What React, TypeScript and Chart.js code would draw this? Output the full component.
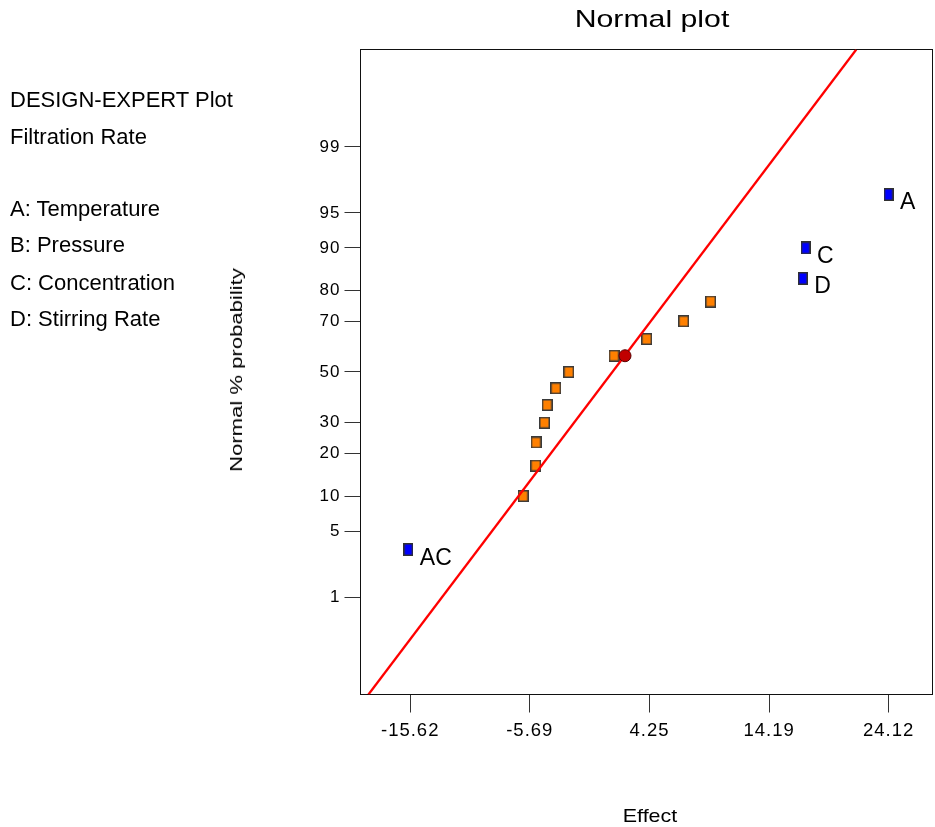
import React, { useEffect, useRef } from 'react';
import { Chart, registerables } from 'chart.js';

Chart.register(...registerables);

// ---- data ----
const significantNames = ['AC', 'D', 'C', 'A'];
const significantEffects = [-15.78, 16.99, 17.22, 24.11];
const significantProbs = [3.33, 83.33, 90, 96.67];

const otherEffects = [-6.24, -5.19, -5.17, -4.47, -4.25, -3.53, -2.45, 1.31, 4.02, 7.09, 9.33];
const otherProbs = [10, 16.67, 23.33, 30, 36.67, 43.33, 50, 56.67, 63.33, 70, 76.67];

const centerEffects = [2.22];
const centerProbs = [56.67];

const lineEffects = [-19.09, 21.43];
const lineProbs = [0.043, 99.957];

const xTickValues = [-15.62, -5.69, 4.25, 14.19, 24.12];
const xTickLabels = ['-15.62', '-5.69', '4.25', '14.19', '24.12'];
const yTickProbs = [1, 5, 10, 20, 30, 50, 70, 80, 90, 95, 99];
const yTickLabels = ['1', '5', '10', '20', '30', '50', '70', '80', '90', '95', '99'];

const legendLines = [
  'DESIGN-EXPERT Plot',
  'Filtration Rate',
  'A: Temperature',
  'B: Pressure',
  'C: Concentration',
  'D: Stirring Rate',
];

const FONT = "'Liberation Sans', Arial, sans-serif";

// inverse normal CDF (probability scale transform)
function probit(p: number): number {
  const a = [-3.969683028665376e1, 2.209460984245205e2, -2.759285104469687e2, 1.38357751867269e2, -3.066479806614716e1, 2.506628277459239];
  const b = [-5.447609879822406e1, 1.615858368580409e2, -1.556989798598866e2, 6.680131188771972e1, -1.328068155288572e1];
  const c = [-7.784894002430293e-3, -3.223964580411365e-1, -2.400758277161838, -2.549732539343734, 4.374664141464968, 2.938163982698783];
  const d = [7.784695709041462e-3, 3.224671290700398e-1, 2.445134137142996, 3.754408661907416];
  const plow = 0.02425;
  const phigh = 1 - plow;
  if (p < plow) {
    const q = Math.sqrt(-2 * Math.log(p));
    return (((((c[0] * q + c[1]) * q + c[2]) * q + c[3]) * q + c[4]) * q + c[5]) / ((((d[0] * q + d[1]) * q + d[2]) * q + d[3]) * q + 1);
  }
  if (p > phigh) {
    const q = Math.sqrt(-2 * Math.log(1 - p));
    return -(((((c[0] * q + c[1]) * q + c[2]) * q + c[3]) * q + c[4]) * q + c[5]) / ((((d[0] * q + d[1]) * q + d[2]) * q + d[3]) * q + 1);
  }
  const q = p - 0.5;
  const r = q * q;
  return ((((((a[0] * r + a[1]) * r + a[2]) * r + a[3]) * r + a[4]) * r + a[5]) * q) / (((((b[0] * r + b[1]) * r + b[2]) * r + b[3]) * r + b[4]) * r + 1);
}

const toZ = (pct: number) => probit(pct / 100);

function makeMarker(w: number, h: number, fill: string, stroke: string): HTMLCanvasElement {
  const c = document.createElement('canvas');
  c.width = w;
  c.height = h;
  const ctx = c.getContext('2d')!;
  ctx.fillStyle = fill;
  ctx.fillRect(0, 0, w, h);
  ctx.strokeStyle = stroke;
  ctx.lineWidth = 1.5;
  ctx.strokeRect(0.75, 0.75, w - 1.5, h - 1.5);
  return c;
}

export default function App() {
  const canvasRef = useRef<HTMLCanvasElement | null>(null);

  useEffect(() => {
    if (!canvasRef.current) return;
    const blueMarker = makeMarker(10, 13, '#0000FF', '#303030');
    const orangeMarker = makeMarker(11, 12, '#FF8000', '#3a3a3a');

    const framePlugin = {
      id: 'frame',
      beforeDraw(chart: any) {
        chart.ctx.letterSpacing = '1px';
      },
      beforeDatasetsDraw(chart: any) {
        const { ctx, chartArea } = chart;
        ctx.letterSpacing = '0px';
        ctx.save();
        ctx.strokeStyle = '#111';
        ctx.lineWidth = 1;
        ctx.strokeRect(chartArea.left, chartArea.top, chartArea.right - chartArea.left, chartArea.bottom - chartArea.top);
        ctx.restore();
      },
    };

    const labelPlugin = {
      id: 'pointLabels',
      afterDatasetsDraw(chart: any) {
        const meta = chart.getDatasetMeta(0);
        const { ctx } = chart;
        ctx.save();
        ctx.letterSpacing = '0px';
        ctx.font = `23px ${FONT}`;
        ctx.fillStyle = '#000';
        ctx.textBaseline = 'alphabetic';
        ctx.textAlign = 'left';
        meta.data.forEach((el: any, i: number) => {
          ctx.fillText(significantNames[i], el.x + 11.5, el.y + 15);
        });
        ctx.restore();
      },
    };

    const chart = new Chart(canvasRef.current, {
      type: 'scatter',
      data: {
        datasets: [
          {
            label: 'Significant effects',
            data: significantEffects.map((x, i) => ({ x, y: toZ(significantProbs[i]) })),
            pointStyle: blueMarker as any,
            pointRadius: 6,
            order: 2,
          },
          {
            label: 'Other effects',
            data: otherEffects.map((x, i) => ({ x, y: toZ(otherProbs[i]) })),
            pointStyle: orangeMarker as any,
            pointRadius: 6,
            order: 3,
          },
          {
            label: 'Normal line',
            data: lineEffects.map((x, i) => ({ x, y: toZ(lineProbs[i]) })),
            showLine: true,
            borderColor: '#FF0000',
            borderWidth: 2.3,
            pointRadius: 0,
            order: 1,
          },
          {
            label: 'Center',
            data: centerEffects.map((x, i) => ({ x, y: toZ(centerProbs[i]) })),
            pointStyle: 'circle',
            pointRadius: 6,
            backgroundColor: '#C00000',
            borderColor: '#5a0000',
            borderWidth: 1,
            order: 0,
          },
        ],
      },
      options: {
        animation: false,
        responsive: false,
        maintainAspectRatio: false,
        events: [],
        layout: { autoPadding: false, padding: { left: 0, right: 2.5, top: 49.5, bottom: 0 } },
        plugins: {
          legend: { display: false },
          tooltip: { enabled: false },
          title: { display: false },
        },
        scales: {
          x: {
            type: 'linear',
            position: 'bottom',
            min: -19.75,
            max: 27.76,
            afterBuildTicks: (scale: any) => {
              scale.ticks = xTickValues.map((v) => ({ value: v }));
            },
            afterFit: (scale: any) => {
              scale.height = 132.5;
              scale.paddingLeft = 0;
              scale.paddingRight = 0;
            },
            border: { display: false },
            grid: { drawOnChartArea: false, drawTicks: true, tickLength: 18, color: '#333', lineWidth: 1 },
            ticks: {
              autoSkip: false,
              maxRotation: 0,
              padding: 7,
              color: '#000',
              font: { family: FONT, size: 18.5 },
              callback: (_v: any, i: number) => xTickLabels[i],
            },
          },
          y: {
            type: 'linear',
            position: 'left',
            min: toZ(lineProbs[0]),
            max: toZ(lineProbs[1]),
            afterBuildTicks: (scale: any) => {
              scale.ticks = yTickProbs.map((p) => ({ value: toZ(p) }));
            },
            afterFit: (scale: any) => {
              scale.width = 360.5;
              scale.paddingTop = 0;
              scale.paddingBottom = 0;
            },
            border: { display: false },
            grid: { drawOnChartArea: false, drawTicks: true, tickLength: 16, color: '#333', lineWidth: 1 },
            ticks: {
              autoSkip: false,
              padding: 4,
              color: '#000',
              font: { family: FONT, size: 17 },
              callback: (_v: any, i: number) => yTickLabels[i],
            },
          },
        },
      } as any,
      plugins: [framePlugin, labelPlugin],
    });
    return () => chart.destroy();
  }, []);

  const legendTops = [89.1, 126.4, 198.1, 234.4, 272.1, 308.4];

  return (
    <div style={{ position: 'fixed', left: 0, top: 0, width: 935, height: 827, background: '#fff', overflow: 'hidden', fontFamily: FONT, color: '#000' }}>
      <canvas ref={canvasRef} width={935} height={827} style={{ position: 'absolute', left: 0, top: 0, width: 935, height: 827 }} />
      <div style={{ position: 'absolute', left: 651.5, top: 7, fontSize: 24, lineHeight: '24px', whiteSpace: 'nowrap', transform: 'translateX(-50%) scaleX(1.26)' }}>
        Normal plot
      </div>
      {legendLines.map((t, i) => (
        <div key={i} style={{ position: 'absolute', left: 10, top: legendTops[i], fontSize: 22, lineHeight: '22px', whiteSpace: 'nowrap' }}>
          {t}
        </div>
      ))}
      <div style={{ position: 'absolute', left: 237, top: 370, fontSize: 16, lineHeight: '16px', whiteSpace: 'nowrap', transform: 'translate(-50%, -50%) rotate(-90deg) scaleX(1.38)' }}>
        Normal % probability
      </div>
      <div style={{ position: 'absolute', left: 650, top: 806.2, fontSize: 19, lineHeight: '19px', whiteSpace: 'nowrap', transform: 'translateX(-50%) scaleX(1.13)' }}>
        Effect
      </div>
    </div>
  );
}
